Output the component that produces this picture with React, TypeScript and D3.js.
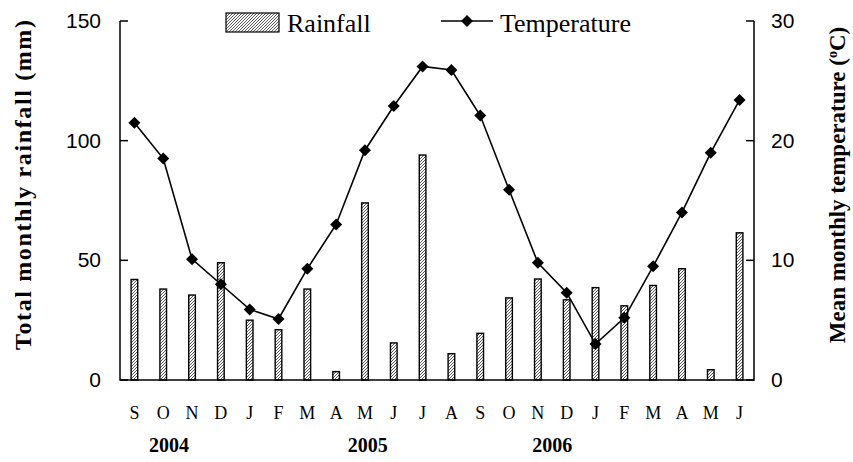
import React from 'react';
import * as d3 from 'd3';

// month letters, Sep 2004 .. Jun 2006
const months = ['S', 'O', 'N', 'D', 'J', 'F', 'M', 'A', 'M', 'J', 'J', 'A', 'S', 'O', 'N', 'D', 'J', 'F', 'M', 'A', 'M', 'J'];
const rainfall = [42, 38, 35.5, 49, 25, 21, 38, 3.5, 74, 15.5, 94, 11, 19.5, 34.3, 42.2, 33.5, 38.6, 31, 39.5, 46.5, 4.3, 61.5];
const temperature = [21.5, 18.5, 10.1, 8.0, 5.9, 5.1, 9.3, 13.0, 19.2, 22.9, 26.2, 25.9, 22.1, 15.9, 9.8, 7.3, 3.0, 5.2, 9.5, 14.0, 19.0, 23.4];
const years = ['2004', '2005', '2006'];
const yearAnchor = [1.2, 8.1, 14.5]; // month index the year label sits under
const rainTicks = [0, 50, 100, 150];
const tempTicks = [0, 10, 20, 30];

const W = 853;
const H = 462;
const margin = { top: 21, right: 99, bottom: 82, left: 120 };

const serif = '"Liberation Serif", "Times New Roman", serif';
const sans = '"Liberation Sans", Arial, sans-serif';

const App: React.FC = () => {
  const x = d3.scaleBand<number>()
    .domain(months.map((_, i) => i))
    .range([margin.left, W - margin.right])
    .padding(0);
  const yRain = d3.scaleLinear().domain([0, 150]).range([H - margin.bottom, margin.top]);
  const yTemp = d3.scaleLinear().domain([0, 30]).range([H - margin.bottom, margin.top]);

  const cx = (i: number) => (x(i) || 0) + x.bandwidth() / 2;
  const barW = x.bandwidth() * 0.23;
  const x0 = margin.left;
  const x1 = W - margin.right;
  const yBase = H - margin.bottom;

  const line = d3.line<number>()
    .x((_, i) => cx(i))
    .y(d => yTemp(d));

  const diamond = (px: number, py: number, r: number) =>
    `M${px},${py - r}L${px + r},${py}L${px},${py + r}L${px - r},${py}Z`;

  const titleY = 185;

  return (
    <svg width={W} height={H} style={{ position: 'absolute', left: 0, top: 0, background: '#fff' }}>
      <defs>
        <pattern id="hatch" patternUnits="userSpaceOnUse" width={3} height={3}>
          <rect width={3} height={3} fill="#fff" />
          <path d="M-1,1 L1,-1 M0,3 L3,0 M2,4 L4,2" stroke="#444" strokeWidth={0.9} />
        </pattern>
      </defs>

      {/* bars */}
      {rainfall.map((d, i) => (
        <rect key={'b' + i}
          x={cx(i) - barW / 2}
          y={yRain(d)}
          width={barW}
          height={yBase - yRain(d)}
          fill="url(#hatch)" stroke="#000" strokeWidth={1.4} />
      ))}

      {/* temperature line */}
      <path d={line(temperature) || ''} fill="none" stroke="#000" strokeWidth={1.6} />
      {temperature.map((d, i) => (
        <path key={'m' + i} d={diamond(cx(i), yTemp(d), 6)} fill="#000" />
      ))}

      {/* axes frame */}
      <path d={`M${x0},${margin.top}V${yBase}H${x1}V${margin.top}`} fill="none" stroke="#000" strokeWidth={1.5} />
      {rainTicks.map(t => (
        <g key={'l' + t}>
          <line x1={x0} x2={x0 + 8} y1={yRain(t)} y2={yRain(t)} stroke="#000" strokeWidth={1.5} />
          <text x={101} y={yRain(t) + 7} textAnchor="end" fontFamily={sans} fontSize={21}>{t}</text>
        </g>
      ))}
      {tempTicks.map(t => (
        <g key={'r' + t}>
          <line x1={x1 - 8} x2={x1} y1={yTemp(t)} y2={yTemp(t)} stroke="#000" strokeWidth={1.5} />
          <text x={771} y={yTemp(t) + 7} textAnchor="start" fontFamily={sans} fontSize={21}>{t}</text>
        </g>
      ))}

      {/* month labels */}
      {months.map((m, i) => (
        <text key={'x' + i} x={cx(i)} y={419} textAnchor="middle" fontFamily={serif} fontSize={18}>{m}</text>
      ))}
      {years.map((yr, k) => (
        <text key={yr} x={x0 + x.step() * (yearAnchor[k] + 0.5)} y={452} textAnchor="middle"
          fontFamily={serif} fontSize={20} fontWeight="bold">{yr}</text>
      ))}

      {/* axis titles */}
      <text transform={`translate(31,${titleY}) rotate(-90)`} textAnchor="middle"
        fontFamily={serif} fontSize={24} fontWeight="bold" textLength={330} lengthAdjust="spacing">
        Total monthly rainfall (mm)
      </text>
      <text transform={`translate(845,${titleY}) rotate(-90)`} textAnchor="middle"
        fontFamily={serif} fontSize={23} fontWeight="bold">
        Mean monthly temperature (<tspan dy={-8} fontSize={14}>o</tspan><tspan dy={8}>C)</tspan>
      </text>

      {/* legend */}
      <rect x={226} y={13} width={53} height={19} fill="url(#hatch)" stroke="#000" strokeWidth={1.2} />
      <text x={287} y={32} fontFamily={serif} fontSize={26}>Rainfall</text>
      <line x1={441} x2={493} y1={21} y2={21} stroke="#000" strokeWidth={1.6} />
      <path d={diamond(467, 21, 6)} fill="#000" />
      <text x={500} y={32} fontFamily={serif} fontSize={26}>Temperature</text>
    </svg>
  );
};

export default App;
